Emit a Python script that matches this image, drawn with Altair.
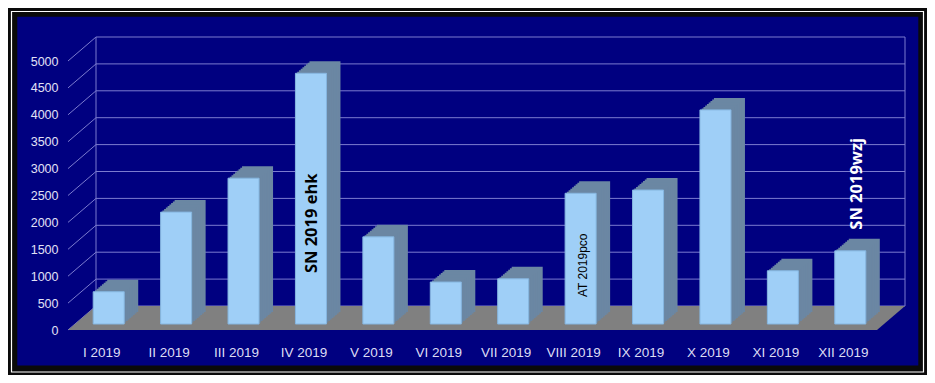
import altair as alt
import pandas as pd

# ---------------- data ----------------
months = ["I 2019", "II 2019", "III 2019", "IV 2019", "V 2019", "VI 2019",
          "VII 2019", "VIII 2019", "IX 2019", "X 2019", "XI 2019", "XII 2019"]
counts = [600, 2080, 2710, 4660, 1620, 780, 840, 2430, 2490, 3980, 990, 1360]
y_ticks = [0, 500, 1000, 1500, 2000, 2500, 3000, 3500, 4000, 4500, 5000]
ann_months = ["IV 2019", "VIII 2019", "XII 2019"]
ann_texts = ["SN 2019 ehk", "AT 2019pco", "SN 2019wzj"]

# ---------------- style / layout ----------------
W, H = 809, 269
WALL_DX, WALL_DY = 28, 24        # depth of back wall
BAR_X0, BAR_Y0 = 7, 6            # bars sit slightly behind the front plane
BAR_DX, BAR_DY = 14, 12          # depth of each column
NAVY = "#000080"
GRID = "#7b7bcf"
FRONT = "#9fcff7"
FRONT_EDGE = "#86b6e0"
SIDE = "#6b87a3"
FLOOR = "#808080"

df = pd.DataFrame({"month": months, "count": counts})
ticks = pd.DataFrame({"v": y_ticks})
ann = pd.DataFrame({"month": ann_months, "text": ann_texts,
                    "count": [counts[months.index(m)] for m in ann_months]})
one = pd.DataFrame({"k": [0]})

yscale = alt.Scale(domain=[0, 5000], nice=False, zero=True)
xscale = alt.Scale(paddingInner=0.54, paddingOuter=0.27)

x_axis = alt.Axis(title=None, labelAngle=0, domain=False, ticks=False, tickSize=0,
                  labelPadding=15, labelFont="Liberation Sans", labelFontSize=13.5,
                  labelColor="#dcdcf4", zindex=1)
y_axis = alt.Axis(title=None, values=y_ticks, format="d", grid=False, domain=False,
                  ticks=False, tickSize=0, labelPadding=10, labelFont="Liberation Sans",
                  labelFontSize=12.5, labelColor="#e2e2f6", zindex=1)

X = alt.X("month:N", sort=months, scale=xscale, axis=x_axis)


def Yf(field):
    return alt.Y(field, scale=yscale, axis=y_axis)


def Yd(v):
    return alt.Y(datum=v, scale=yscale, axis=y_axis)


# frame + navy panel (decoration)
frame = alt.Chart(one).mark_rect(fill=None, stroke="#ffffff", strokeWidth=1.2).encode(
    x=alt.value(-56.5), x2=alt.value(855.5), y=alt.value(-49.5), y2=alt.value(311))
panel = alt.Chart(one).mark_rect(fill=NAVY, stroke=None).encode(
    x=alt.value(-50.7), x2=alt.value(850.3), y=alt.value(-44.3), y2=alt.value(304.5))

# back-wall gridlines
grid = alt.Chart(ticks).mark_rule(color=GRID, strokeWidth=1, yOffset=-WALL_DY).encode(
    y=Yf("v:Q"), x=alt.value(WALL_DX), x2=alt.value(W + WALL_DX))
# side-wall diagonals
diag = alt.Chart(ticks).mark_rule(color=GRID, strokeWidth=1, y2Offset=-WALL_DY).encode(
    y=Yf("v:Q"), y2="v:Q", x=alt.value(0), x2=alt.value(WALL_DX))
# back-wall vertical edges
vleft = alt.Chart(one).mark_rule(color=GRID, strokeWidth=1, yOffset=-WALL_DY, y2Offset=-WALL_DY).encode(
    y=Yd(0), y2=alt.Y2(datum=5000), x=alt.value(WALL_DX))
vright = alt.Chart(one).mark_rule(color=GRID, strokeWidth=1, yOffset=-WALL_DY, y2Offset=-WALL_DY).encode(
    y=Yd(0), y2=alt.Y2(datum=5000), x=alt.value(W + WALL_DX))

# floor parallelogram (custom symbol path in unit coords)
half = (W + WALL_DX) / 2
hy = WALL_DY / 2
floor_path = (f"M -1 {hy/half:.5f} L {(W-half)/half:.5f} {hy/half:.5f} "
              f"L 1 {-hy/half:.5f} L {(WALL_DX-half)/half:.5f} {-hy/half:.5f} Z")
floor = alt.Chart(one).mark_point(shape=floor_path, filled=True, fill=FLOOR, opacity=1,
                                  strokeWidth=0, size=(2 * half) ** 2, yOffset=-hy).encode(
    x=alt.value(half), y=Yd(0))

# 3D depth of columns: stacked offset copies
N = 8
depth_layers = []
for k in range(N, 0, -1):
    t = k / N
    ox = BAR_X0 + BAR_DX * t
    oy = -BAR_Y0 - BAR_DY * t
    depth_layers.append(
        alt.Chart(df).mark_bar(fill=SIDE, xOffset=ox, x2Offset=ox, yOffset=oy, y2Offset=oy).encode(
            x=X, y=Yf("count:Q")))

front = alt.Chart(df).mark_bar(fill=FRONT, stroke=FRONT_EDGE, strokeWidth=1,
                               xOffset=BAR_X0, x2Offset=BAR_X0,
                               yOffset=-BAR_Y0, y2Offset=-BAR_Y0).encode(
    x=X, y=Yf("count:Q"))

t1 = alt.Chart(ann.iloc[[0]]).mark_text(angle=270, align="center", baseline="middle",
                                        font="Open Sans", fontWeight="bold", fontSize=16.5,
                                        color="#000000", xOffset=8, yOffset=144).encode(
    x=X, y=Yf("count:Q"), text="text:N")
t2 = alt.Chart(ann.iloc[[1]]).mark_text(angle=270, align="center", baseline="middle",
                                        font="Liberation Sans", fontSize=12,
                                        color="#000000", xOffset=9.5, yOffset=66).encode(
    x=X, y=Yf("count:Q"), text="text:N")
t3 = alt.Chart(ann.iloc[[2]]).mark_text(angle=270, align="center", baseline="middle",
                                        font="Open Sans", fontWeight="bold", fontSize=16.5,
                                        color="#ffffff", xOffset=14, yOffset=-73).encode(
    x=X, y=Yf("count:Q"), text="text:N")

chart = alt.layer(frame, panel, grid, diag, vleft, vright, floor, *depth_layers, front,
                  t1, t2, t3).properties(
    width=W, height=H,
    autosize=alt.AutoSizeParams(type="none"),
    padding={"left": 60, "top": 53, "right": 50, "bottom": 45},
    background="#0a0a0a",
).configure_view(stroke=None)

chart.save("out.html", embed_options={"renderer": "svg", "actions": False})
